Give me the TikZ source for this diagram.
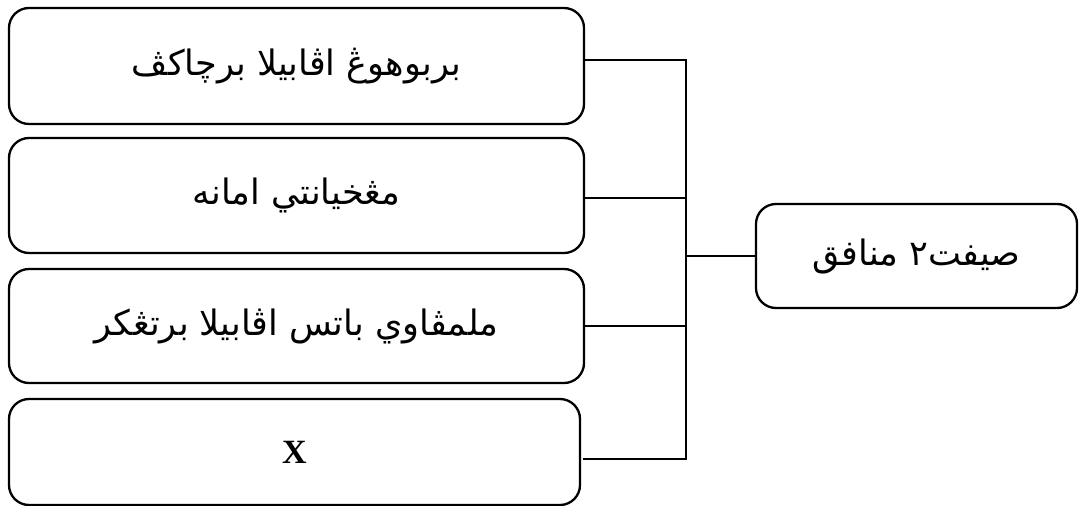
\documentclass[tikz,border=0pt]{standalone}
\usepackage{fontspec}
\newfontfamily\arabicfont[Script=Arabic]{DejaVu Sans}
\newfontfamily\xfont{Liberation Serif}
\TeXXeTstate=1
\begin{document}
\begin{tikzpicture}[x=1pt,y=-1pt,
  box/.style={draw, line width=2.3pt, rounded corners=20pt, inner sep=0pt, font=\arabicfont\fontsize{35}{42}\selectfont},
  conn/.style={line width=2.1pt}]
\useasboundingbox (0,0) rectangle (1079,506);
\node[box, minimum width=575pt, minimum height=116pt] (b1) at (296.5,66) {\beginR بربوهوڠ اڤابيلا برچاکڤ\endR};
\node[box, minimum width=575pt, minimum height=115pt] (b2) at (296.5,195.5) {\beginR مڠخيانتي امانه\endR};
\node[box, minimum width=575pt, minimum height=114pt] (b3) at (296.5,326) {\beginR ملمڤاوي باتس اڤابيلا برتڠکر\endR};
\node[box, minimum width=571pt, minimum height=106pt] (b4) at (294.5,452) {\xfont\bfseries\fontsize{34}{40}\selectfont X};
\node[box, minimum width=321pt, minimum height=104pt] (r) at (916.5,256) {\beginR صيفت٢ منافق\endR};
\coordinate (j1) at (686,60);
\coordinate (j2) at (686,198);
\coordinate (j3) at (686,326);
\coordinate (j4) at (686,459);
\coordinate (jm) at (686,256);
\draw[conn] ([yshift=6pt]b1.east) -- (j1) -- (j4) -- ([yshift=-7pt,xshift=2pt]b4.east);
\draw[conn] ([yshift=-2.5pt]b2.east) -- (j2);
\draw[conn] (b3.east) -- (j3);
\draw[conn] (jm) -- (r.west);
\end{tikzpicture}
\end{document}
